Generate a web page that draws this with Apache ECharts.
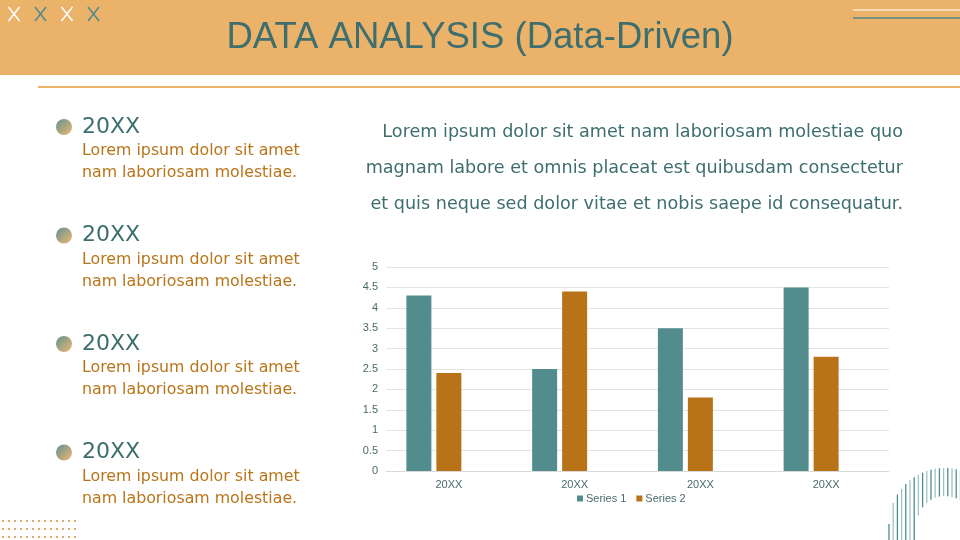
<!DOCTYPE html>
<html>
<head>
<meta charset="utf-8">
<script src="https://cdn.jsdelivr.net/npm/echarts@6/dist/echarts.min.js"></script>
<style>
  html, body { margin: 0; padding: 0; background: #fff; }
  #main { width: 960px; height: 540px; }
</style>
</head>
<body>
<div id="main"></div>
<script>
var categories = ['20XX', '20XX', '20XX', '20XX']
var series1 = [4.3, 2.5, 3.5, 4.5]
var series2 = [2.4, 4.4, 1.8, 2.8]
var series3 = [null, null, null, null] // empty third series in the source chart

var listYears = ['20XX', '20XX', '20XX', '20XX']
var listLine1 = 'Lorem ipsum dolor sit amet'
var listLine2 = 'nam laboriosam molestiae.'
var paragraph = [
    'Lorem ipsum dolor sit amet nam laboriosam molestiae quo',
    'magnam labore et omnis placeat est quibusdam consectetur',
    'et quis neque sed dolor vitae et nobis saepe id consequatur.',
]

var FONT = 'Liberation Sans'
var BODY = 'DejaVu Sans'
var TEAL = '#3e6e6e'
var ORANGE = '#b87519'

function buildGraphic() {
    var g = []
    // header band
    g.push({ type: 'rect', shape: { x: 0, y: 0, width: 960, height: 75 }, style: { fill: '#ebb36a' }, silent: true })
    g.push({ type: 'rect', shape: { x: 38, y: 86, width: 922, height: 2 }, style: { fill: '#ebb36a' }, silent: true })
    // crosses top-left
    for (var i = 0; i < 4; i++) {
        var cx = 14 + i * 26.5
        var col = i % 2 === 0 ? '#ffffff' : '#4f8a8a'
        g.push({ type: 'line', shape: { x1: cx - 5.5, y1: 7, x2: cx + 5.5, y2: 21 }, style: { stroke: col, lineWidth: 1.5 }, silent: true })
        g.push({ type: 'line', shape: { x1: cx + 5.5, y1: 7, x2: cx - 5.5, y2: 21 }, style: { stroke: col, lineWidth: 1.5 }, silent: true })
    }
    // lines top-right
    g.push({ type: 'line', shape: { x1: 853, y1: 10, x2: 960, y2: 10 }, style: { stroke: '#ffffff', lineWidth: 1.2 }, silent: true })
    g.push({ type: 'line', shape: { x1: 853, y1: 18, x2: 960, y2: 18 }, style: { stroke: '#4f8a8a', lineWidth: 1.6 }, silent: true })
    // title
    g.push({
        type: 'text', x: 480, y: 38,
        style: { text: 'DATA ANALYSIS (Data-Driven)', fill: TEAL, font: '36.5px "' + FONT + '"', textAlign: 'center', textVerticalAlign: 'middle' },
    })
    // left list
    for (var k = 0; k < listYears.length; k++) {
        var y0 = 127 + k * 108.5
        g.push({
            type: 'circle', shape: { cx: 64, cy: y0, r: 8 },
            style: {
                fill: new echarts.graphic.LinearGradient(0, 0, 1, 1, [
                    { offset: 0, color: '#5f9190' },
                    { offset: 1, color: '#f0b873' },
                ]),
            },
            silent: true,
        })
        g.push({ type: 'text', x: 82, y: y0, style: { text: listYears[k], fill: TEAL, font: '22px "' + BODY + '"', textVerticalAlign: 'middle' } })
        g.push({ type: 'text', x: 82, y: y0 + 24, style: { text: listLine1, fill: ORANGE, font: '15.8px "' + BODY + '"', textVerticalAlign: 'middle' } })
        g.push({ type: 'text', x: 82, y: y0 + 46, style: { text: listLine2, fill: ORANGE, font: '15.8px "' + BODY + '"', textVerticalAlign: 'middle' } })
    }
    // paragraph, right aligned
    for (var p = 0; p < paragraph.length; p++) {
        g.push({
            type: 'text', x: 903, y: 132 + p * 36,
            style: { text: paragraph[p], fill: TEAL, font: '17.6px "' + BODY + '"', textAlign: 'right', textVerticalAlign: 'middle' },
        })
    }
    // dots bottom-left
    for (var r = 0; r < 3; r++) {
        for (var c = 0; c < 13; c++) {
            g.push({ type: 'circle', shape: { cx: 3 + c * 6, cy: 521 + r * 8, r: 1 }, style: { fill: '#d6913c' }, silent: true })
        }
    }
    // striped ring bottom-right
    var ccx = 945, ccy = 524, ro = 56, ri = 28
    for (var x = 889; x <= 962; x += 4.2) {
        var dx = x - ccx
        if (Math.abs(dx) > ro) continue
        var top = ccy - Math.sqrt(ro * ro - dx * dx)
        var bot = Math.abs(dx) < ri ? ccy - Math.sqrt(ri * ri - dx * dx) : 540
        var idx = Math.round((x - 889) / 4.2)
        g.push({
            type: 'line', shape: { x1: x, y1: top, x2: x, y2: bot },
            style: { stroke: idx % 2 === 0 ? '#4f8a8a' : '#9fc3c3', lineWidth: 1.3 }, silent: true,
        })
    }
    return g
}

var chart = echarts.init(document.getElementById('main'))
var option = {
    backgroundColor: '#ffffff',
    animation: false,
    textStyle: { fontFamily: FONT },
    grid: { left: 386, right: 71, top: 267, bottom: 69, containLabel: false },
    legend: {
        data: ['Series 1', 'Series 2'],
        bottom: 31, left: 572,
        itemWidth: 6, itemHeight: 6, itemGap: 10,
        icon: 'rect',
        textStyle: { color: '#4a6b6b', fontSize: 11, fontFamily: FONT, padding: [0, 0, 0, -2] },
    },
    xAxis: {
        type: 'category',
        data: categories,
        axisLine: { lineStyle: { color: '#d9d9d9' } },
        axisTick: { show: false },
        axisLabel: { color: '#4a6b6b', fontSize: 11, margin: 8 },
    },
    yAxis: {
        type: 'value',
        min: 0, max: 5, interval: 0.5,
        axisLine: { show: false },
        axisTick: { show: false },
        axisLabel: { color: '#4a6b6b', fontSize: 11, margin: 8 },
        splitLine: { lineStyle: { color: '#e3e3e3' } },
    },
    series: [
        { name: 'Series 1', type: 'bar', data: series1, barWidth: 25, barGap: '20%', barCategoryGap: '32%', itemStyle: { color: '#528c8c' } },
        { name: 'Series 2', type: 'bar', data: series2, barWidth: 25, barGap: '20%', itemStyle: { color: '#b87319' } },
        { name: 'Series 3', type: 'bar', data: series3, barWidth: 25, barGap: '20%', itemStyle: { color: '#999999' } },
    ],
    graphic: buildGraphic(),
}
chart.setOption(option)
</script>
</body>
</html>
